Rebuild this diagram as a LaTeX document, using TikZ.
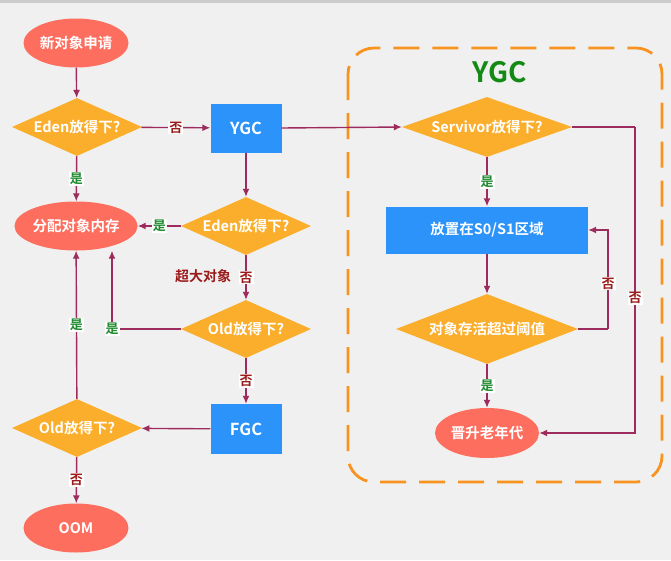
\documentclass[tikz,border=0pt]{standalone}
\usepackage{fontspec}
\setmainfont{Noto Sans CJK SC}[BoldFont=* Bold]
\usetikzlibrary{shapes.geometric,arrows.meta,positioning,calc}
\definecolor{bgc}{HTML}{F0F0F0}
\definecolor{salmon}{HTML}{FD6E5F}
\definecolor{dorange}{HTML}{FBAE2C}
\definecolor{bblue}{HTML}{2B93F9}
\definecolor{lnc}{HTML}{9E2B5E}
\definecolor{noc}{HTML}{9B1B1B}
\definecolor{yesc}{HTML}{1E8A2E}
\definecolor{dashc}{HTML}{F7931E}
\definecolor{titc}{HTML}{138A13}
\tikzset{
  ell/.style={ellipse, fill=salmon, text=white, font=\bfseries\fontsize{14.5}{16}\selectfont, minimum width=105pt, minimum height=49pt, inner sep=0pt},
  dia/.style={diamond, fill=dorange, text=white, font=\bfseries\fontsize{14.5}{16}\selectfont, minimum width=130pt, minimum height=58pt, inner sep=0pt, aspect=2.24},
  boxn/.style={rectangle, fill=bblue, text=white, font=\bfseries\fontsize{16.5}{18}\selectfont, minimum width=71pt, minimum height=49pt, inner sep=0pt},
  arr/.style={draw=lnc, line width=1.4pt, -{Latex[length=8pt,width=7pt]}},
  nolab/.style={fill=white, text=noc, font=\bfseries\fontsize{13}{15}\selectfont, inner sep=1pt},
  yeslab/.style={fill=white, text=yesc, font=\bfseries\fontsize{13}{15}\selectfont, inner sep=1pt}
}
\begin{document}
\begin{tikzpicture}[x=1pt,y=-1pt]
\useasboundingbox (0,0) rectangle (671,560);
\fill[bgc] (0,0) rectangle (671,560);
\fill[black!20] (0,0) rectangle (671,3);
% dashed frame
\draw[dashc, line width=2.8pt, dash pattern=on 26pt off 13pt, rounded corners=26pt] (348,48) rectangle (662,482);
\node[text=titc, font=\bfseries\fontsize{28}{32}\selectfont] (title) at (500,72) {YGC};
% left nodes
\node[ell] (new) at (76,43) {新对象申请};
\node[dia] (e1) at (77,127) {Eden放得下?};
\node[boxn] (ygc) at (246,128) {YGC};
\node[ell] (alloc) at (76,226) {分配对象内存};
\node[dia] (e2) at (246,226) {Eden放得下?};
\node[dia] (o1) at (246,329) {Old放得下?};
\node[boxn, minimum height=50pt] (fgc) at (246,429) {FGC};
\node[dia] (o2) at (77,428) {Old放得下?};
\node[ell] (oom) at (76,528) {OOM};
% right nodes
\node[dia, minimum width=170pt, minimum height=60pt, aspect=2.83] (sv) at (487,127) {Servivor放得下?};
\node[boxn, font=\bfseries\fontsize{14.5}{16}\selectfont, minimum width=202pt, minimum height=47pt] (s0) at (487,230) {放置在S0/S1区域};
\node[dia, minimum width=182pt, minimum height=70pt, aspect=2.6] (surv) at (487,329) {对象存活超过阈值};
\node[ell, minimum width=104pt, minimum height=50pt] (prom) at (487,433) {晋升老年代};
\node[text=noc, font=\bfseries\fontsize{14}{16}\selectfont, inner sep=0pt] (big) at (203,276) {超大对象};
% coordinates
\coordinate (r1) at (635,127);
\coordinate (r2) at (608,329);
% edges
\draw[arr] (new) -- (e1);
\draw[arr] (e1) -- node[nolab]{否} (ygc);
\draw[arr] (ygc.east) -- (sv.west);
\draw[arr] (e1) -- node[yeslab]{是} (alloc);
\draw[arr] (ygc) -- (e2);
\draw[arr] (e2) -- node[yeslab]{是} (alloc);
\draw[arr] (e2) -- node[nolab]{否} (o1);
\draw[arr] (o1.west) -| node[yeslab]{是} ([xshift=36pt]alloc.south);
\draw[arr] (o2) -- node[yeslab]{是} (alloc);
\draw[arr] (o1) -- node[nolab]{否} (fgc);
\draw[arr] (fgc) -- (o2);
\draw[arr] (o2) -- node[nolab]{否} (oom);
\draw[arr] (sv) -- node[yeslab]{是} (s0);
\draw[arr] (s0) -- (surv);
\draw[arr] (surv) -- node[yeslab]{是} (prom);
\draw[draw=lnc, line width=1.4pt] (sv.east) -- (r1);
\draw[arr] (r1) |- node[nolab, pos=0.28]{否} (prom.east);
\draw[draw=lnc, line width=1.4pt] (surv.east) -- (r2);
\draw[arr] (r2) |- node[nolab, pos=0.23]{否} (s0.east);
\end{tikzpicture}
\end{document}
